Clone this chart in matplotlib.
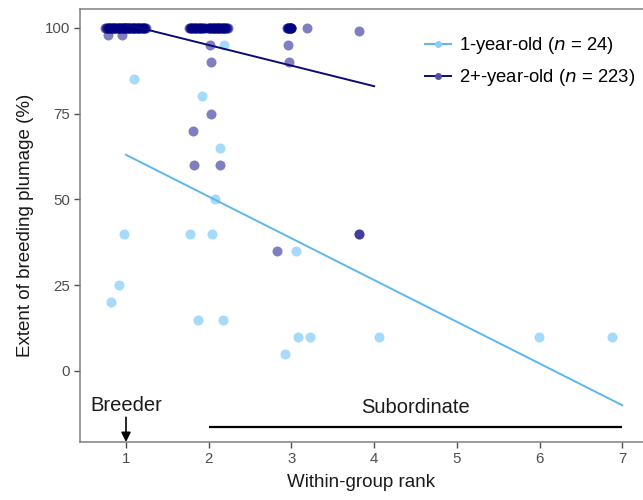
import matplotlib
matplotlib.use("Agg")
import matplotlib.pyplot as plt
from matplotlib.lines import Line2D

plt.rcParams['font.family'] = ['Liberation Sans', 'DejaVu Sans']

# ---- data ----
# 1-year-old individuals (rank, % breeding plumage)
young_rank = [1.00, 1.10, 2.00, 2.10, 2.95,
              1.10, 2.18, 1.92, 2.14, 2.08, 0.98, 1.77, 2.04, 3.06,
              0.92, 0.82, 1.87, 2.17, 3.08, 3.22, 4.06, 2.92, 5.99, 6.88]
young_plum = [100, 100, 100, 100, 100,
              85, 95, 80, 65, 50, 40, 40, 40, 35,
              25, 20, 15, 15, 10, 10, 10, 5, 10, 10]

# 2+-year-old individuals
old_rank_full = [0.75, 0.77, 0.79, 0.81, 0.83, 0.85, 0.87, 0.89, 0.91, 0.93,
                 0.95, 0.97, 0.99, 1.01, 1.03, 1.05, 1.07, 1.09, 1.11, 1.13,
                 1.15, 1.17, 1.19, 1.21, 1.23, 1.24, 0.76, 0.80, 0.84, 0.88,
                 0.92, 0.96, 1.00, 1.04, 1.08, 1.12, 1.16, 1.20, 0.78, 0.82,
                 0.86, 0.90, 0.94, 0.98, 1.02, 1.06, 1.10, 1.14, 1.18, 1.22,
                 0.80, 0.86, 0.92, 0.98, 1.04, 1.10, 1.16, 1.22, 0.83, 0.95,
                 1.76, 1.78, 1.80, 1.82, 1.84, 1.86, 1.88, 1.90, 1.92, 1.94,
                 1.77, 1.81, 1.85, 1.89, 1.93, 1.79, 1.83, 1.87, 1.91, 1.95,
                 1.99, 2.01, 2.03, 2.05, 2.07, 2.09, 2.11, 2.13, 2.15, 2.17,
                 2.19, 2.21, 2.23, 2.00, 2.04, 2.08, 2.12, 2.16, 2.20, 2.02,
                 2.06, 2.10, 2.14, 2.18, 2.22, 2.05, 2.11, 2.17,
                 2.95, 2.96, 2.97, 2.98, 2.99, 3.00, 2.96, 2.98, 3.00, 2.97,
                 2.99, 3.19]
old_plum_full = [100] * len(old_rank_full)
old_rank_part = [0.78, 0.95, 3.82, 2.02, 2.96, 2.03, 2.97, 2.03, 1.81,
                 1.82, 2.14, 2.83, 3.82, 3.82]
old_plum_part = [98, 98, 99, 95, 95, 90, 90, 75, 70,
                 60, 60, 35, 40, 40]

# fitted regression lines (end points)
young_fit_x = [1, 7]
young_fit_y = [63, -10]
old_fit_x = [1, 4]
old_fit_y = [101, 83]

legend_labels = ['1-year-old ($n$ = 24)', '2+-year-old ($n$ = 223)']
xticks = [1, 2, 3, 4, 5, 6, 7]
yticks = [0, 25, 50, 75, 100]

# ---- colours ----
c_young_pt = '#87CEFA'
c_young_ln = '#5EB6F0'
c_old_pt = '#000080'
c_old_ln = '#0A0A78'

fig = plt.figure(figsize=(6.43, 5.0), dpi=100)
ax = fig.add_axes([80 / 643, 58 / 500, (643 - 80) / 643, (442 - 9) / 500])

ax.scatter(young_rank, young_plum, s=52, color=c_young_pt, alpha=0.75,
           linewidths=0, zorder=2)
ax.scatter(old_rank_full + old_rank_part, old_plum_full + old_plum_part, s=52,
           color=c_old_pt, alpha=0.5, linewidths=0, zorder=3)
ax.plot(young_fit_x, young_fit_y, color=c_young_ln, lw=1.4, zorder=4)
ax.plot(old_fit_x, old_fit_y, color=c_old_ln, lw=1.4, zorder=4)

ax.set_xlim(0.444, 7.25)
ax.set_ylim(-20.7, 105.5)
ax.set_xticks(xticks)
ax.set_yticks(yticks)
ax.tick_params(axis='both', colors='#4D4D4D', labelsize=10.8, length=4.5,
               width=1.0, labelcolor='#4D4D4D', pad=2.5)
for side in ['left', 'bottom', 'top']:
    ax.spines[side].set_color('#808080')
    ax.spines[side].set_linewidth(1.1)
ax.spines['right'].set_visible(False)

ax.set_xlabel('Within-group rank', fontsize=13.5, color='#1a1a1a', labelpad=6)
ax.set_ylabel('Extent of breeding plumage (%)', fontsize=13.5, color='#1a1a1a',
              labelpad=8)

# annotations
ax.text(1, -10.2, 'Breeder', ha='center', va='center', fontsize=14.5,
        color='#1a1a1a')
ax.annotate('', xy=(1, -20.7), xytext=(1, -13.5),
            arrowprops=dict(arrowstyle='-|>', color='black', lw=1.2,
                            mutation_scale=14, shrinkA=0, shrinkB=0))
ax.text(4.5, -10.5, 'Subordinate', ha='center', va='center', fontsize=14.5,
        color='#1a1a1a')
ax.plot([2, 7], [-16.3, -16.3], color='black', lw=1.6, solid_capstyle='butt')

handles = [Line2D([0], [0], color=c_young_ln, lw=1.4, marker='o',
                  markersize=5, markerfacecolor=c_young_pt, markeredgewidth=0),
           Line2D([0], [0], color=c_old_ln, lw=1.4, marker='o',
                  markersize=5, markerfacecolor='#5050A0', markeredgewidth=0)]
fig.legend(handles, legend_labels, loc='upper left',
           bbox_to_anchor=(425 / 643, 1 - 35 / 500), frameon=False,
           fontsize=13.3, handlelength=1.4, handletextpad=0.45,
           labelspacing=0.6, borderpad=0, borderaxespad=0)

fig.savefig('out.png', dpi=100)
